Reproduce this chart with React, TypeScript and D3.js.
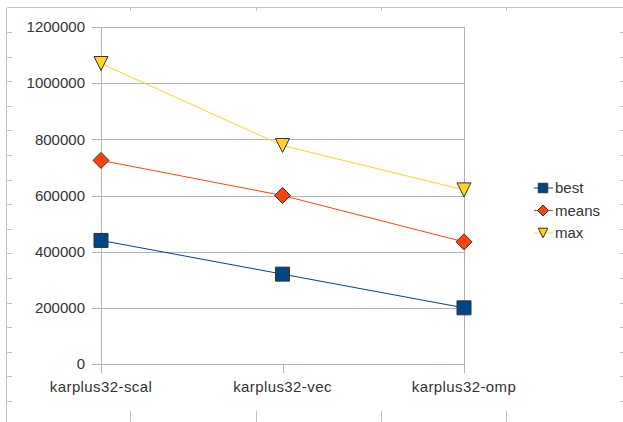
import React from 'react';
import * as d3 from 'd3';

const categories = ['karplus32-scal', 'karplus32-vec', 'karplus32-omp'];
const bestValues = [440000, 320000, 200000];
const meansValues = [725000, 600000, 435000];
const maxValues = [1070000, 778000, 620000];
const yTicks = [0, 200000, 400000, 600000, 800000, 1000000, 1200000];

const series = [
  { name: 'best', values: bestValues, color: '#004586', marker: 'square' },
  { name: 'means', values: meansValues, color: '#ff420e', marker: 'diamond' },
  { name: 'max', values: maxValues, color: '#ffd320', marker: 'triangle' },
];

const W = 623;
const H = 422;
const FONT = '"Liberation Sans", Arial, sans-serif';
const TEXT = '#333333';
const GRID = '#b3b3b3';
const FRAME = '#c3c3c3';

const markerPath = (kind: string, size: number) => {
  const h = size / 2;
  if (kind === 'square') return `M${-h},${-h}H${h}V${h}H${-h}Z`;
  if (kind === 'diamond') return `M0,${-h}L${h},0L0,${h}L${-h},0Z`;
  return `M${-h},${-h}L${h},${-h}L0,${h}Z`;
};

export default function App() {
  const x = d3.scalePoint<string>().domain(categories).range([101, 464]);
  const y = d3.scaleLinear().domain([0, 1200000]).range([364, 27]);

  const line = d3
    .line<number>()
    .x((_, i) => x(categories[i]) as number)
    .y(d => y(d));

  // ruler-ish frame around the screenshot
  const rulerY = d3.range(32, 410, 24.6);
  const rulerX = [130, 256, 381, 506];

  return (
    <svg
      width={W}
      height={H}
      style={{ position: 'absolute', left: 0, top: 0, background: '#fff' }}
      fontFamily={FONT}
    >
      <g stroke={FRAME} strokeWidth={1} shapeRendering="crispEdges">
        <line x1={6.5} x2={W} y1={7.5} y2={7.5} />
        <line x1={6.5} x2={6.5} y1={7.5} y2={H} />
        {rulerX.map(v => (
          <line key={'t' + v} x1={v + 0.5} x2={v + 0.5} y1={8} y2={11} />
        ))}
        {rulerX.map(v => (
          <line key={'b' + v} x1={v + 0.5} x2={v + 0.5} y1={411} y2={H} />
        ))}
        {rulerY.map(v => (
          <line key={'l' + v} x1={7} x2={12} y1={Math.round(v) + 0.5} y2={Math.round(v) + 0.5} />
        ))}
        {rulerY.map(v => (
          <line key={'r' + v} x1={620} x2={623} y1={Math.round(v) + 0.5} y2={Math.round(v) + 0.5} />
        ))}
      </g>

      <g stroke={GRID} strokeWidth={1} shapeRendering="crispEdges">
        {yTicks.map(t => (
          <line key={t} x1={92} x2={464} y1={Math.round(y(t)) + 0.5} y2={Math.round(y(t)) + 0.5} />
        ))}
        <line x1={101.5} x2={101.5} y1={y(1200000)} y2={373} />
        <line x1={464.5} x2={464.5} y1={y(1200000)} y2={373} />
        {categories.map(c => (
          <line key={c} x1={Math.round(x(c) as number) + 0.5} x2={Math.round(x(c) as number) + 0.5} y1={364} y2={373} />
        ))}
      </g>

      <g fill={TEXT} fontSize={15}>
        {yTicks.map(t => (
          <text key={t} x={85} y={y(t)} dy="0.35em" textAnchor="end">
            {t}
          </text>
        ))}
        {categories.map(c => (
          <text key={c} x={x(c)} y={392} textAnchor="middle" letterSpacing={0.4}>
            {c}
          </text>
        ))}
      </g>

      {series.map(s => (
        <g key={s.name}>
          <path d={line(s.values) || ''} fill="none" stroke={s.color} strokeWidth={1} />
          {s.values.map((v, i) => (
            <path
              key={i}
              d={markerPath(s.marker, s.marker === 'diamond' ? 16 : 14)}
              transform={`translate(${x(categories[i])},${y(v)})`}
              fill={s.color}
              stroke="#333"
              strokeWidth={1}
            />
          ))}
        </g>
      ))}

      <g fontSize={15} fill={TEXT}>
        {series.map((s, i) => {
          const ly = 188 + i * 22.5;
          return (
            <g key={s.name} transform={`translate(0,${ly})`}>
              <line x1={534} x2={553} y1={0} y2={0} stroke={s.color} strokeWidth={1} />
              <path
                d={markerPath(s.marker, s.marker === 'diamond' ? 11 : 9.5)}
                transform="translate(543,0)"
                fill={s.color}
                stroke="#333"
                strokeWidth={1}
              />
              <text x={555} y={0} dy="0.35em">
                {s.name}
              </text>
            </g>
          );
        })}
      </g>
    </svg>
  );
}
